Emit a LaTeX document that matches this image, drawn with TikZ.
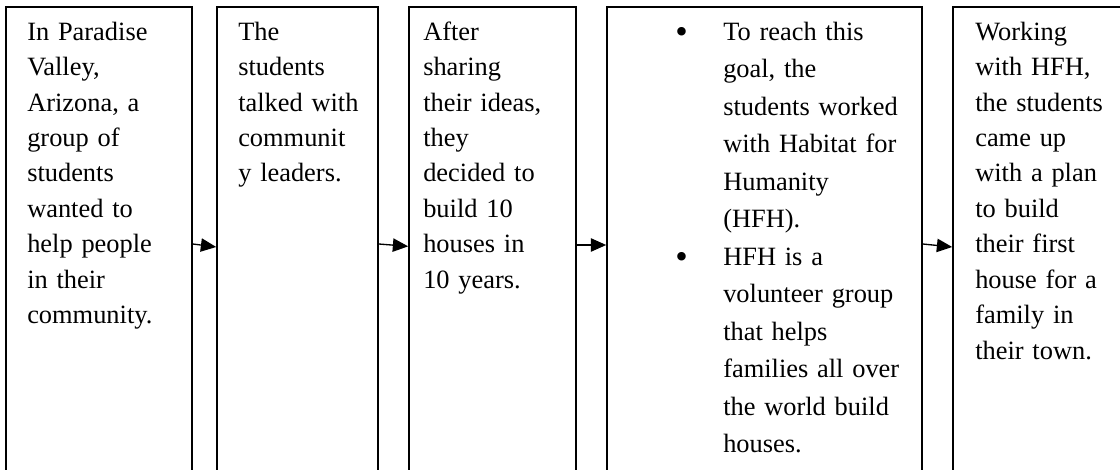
\documentclass[tikz,border=0pt]{standalone}
\usepackage{fontspec}
\setmainfont{Liberation Serif}
\usetikzlibrary{arrows.meta}
\newcommand{\pxu}{0.75pt}
\newcommand{\bul}{\strut\llap{\raisebox{-2.5pt}{\fontsize{26.7pt}{26.7pt}\selectfont\textbullet}\hspace{26.5pt}}}

\begin{document}
\begin{tikzpicture}[x=0.75pt,y=-0.75pt,
  panel/.style={draw=black, line width=1.2pt, minimum height=476*\pxu, inner sep=0pt},
  txt/.style={anchor=north west, inner sep=0pt, align=left, text width=165pt,
    font=\fontsize{19.8pt}{26.6pt}\selectfont},
  flow/.style={line width=1pt, -{Triangle[length=11.5pt, width=10pt]}}]
\useasboundingbox (0,0) rectangle (1120,470);
% the five panels, open at the foot of the page
\node[panel, minimum width=186*\pxu] (b1) at (99,245) {};
\node[panel, minimum width=161*\pxu] (b2) at (297.5,245) {};
\node[panel, minimum width=167*\pxu] (b3) at (492.5,245) {};
\node[panel, minimum width=315*\pxu] (b4) at (764.5,245) {};
\node[panel, minimum width=173*\pxu] (b5) at (1039.5,245) {};
% texts
\node[txt] (t1) at (27,15) {\strut In Paradise\\Valley,\\Arizona, a\\group of\\students\\wanted to\\help people\\in their\\community.};
\node[txt] (t2) at (238,15) {\strut The\\students\\talked with\\communit\\y leaders.};
\node[txt] (t3) at (423,15) {\strut After\\sharing\\their ideas,\\they\\decided to\\build 10\\houses in\\10 years.};
\node[txt, font=\fontsize{19.8pt}{28.1pt}\selectfont] (t4) at (723,14) {\bul To reach this\\goal, the\\students worked\\with Habitat for\\Humanity\\(HFH).\\\bul HFH is a\\volunteer group\\that helps\\families all over\\the world build\\houses.};
\node[txt] (t5) at (975,15) {\strut Working\\with HFH,\\the students\\came up\\with a plan\\to build\\their first\\house for a\\family in\\their town.};
% arrows
\draw[flow] ([yshift=0.75pt]b1.east) -- ([yshift=-1.5pt]b2.west);
\draw[flow] ([yshift=0.75pt]b2.east) -- ([yshift=-1pt]b3.west);
\draw[flow] (b3.east) -- (b4.west);
\draw[flow] ([yshift=0.75pt]b4.east) -- ([yshift=-1.5pt]b5.west);
\end{tikzpicture}
\end{document}
